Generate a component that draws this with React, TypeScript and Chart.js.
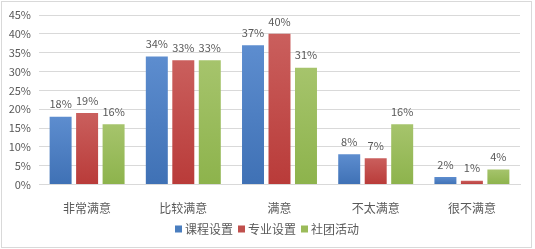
import React, { useEffect, useRef } from "react";
import { Chart, registerables } from "chart.js";

Chart.register(...registerables);

const categories = ["非常满意", "比较满意", "满意", "不太满意", "很不满意"];
const seriesNames = ["课程设置", "专业设置", "社团活动"];
const courseValues = [18, 34, 37, 8, 2];
const majorValues = [19, 33, 40, 7, 1];
const clubValues = [16, 33, 31, 16, 4];
const yTicks = [0, 5, 10, 15, 20, 25, 30, 35, 40, 45];

const colorTop = ["#5d8dcf", "#ca5f5d", "#a6c46c"];
const colorBottom = ["#3f71b5", "#b93b39", "#8db34c"];
const legendColors = ["#4a7ebf", "#c0504d", "#9bbb59"];

const FONT = "'Noto Sans CJK SC', 'Noto Sans', sans-serif";
const TEXT = "#595959";

export default function App() {
  const ref = useRef<HTMLCanvasElement | null>(null);

  useEffect(() => {
    document.body.style.margin = "0";
    const canvas = ref.current!;
    const makeBg = (i: number) => (ctx: any) => {
      const chart = ctx.chart;
      const area = chart.chartArea;
      if (!area || ctx.type !== "data") return legendColors[i];
      const y = chart.scales.y;
      const v = ctx.raw as number;
      const top = y.getPixelForValue(v);
      const bottom = y.getPixelForValue(0);
      const g = chart.ctx.createLinearGradient(0, top, 0, bottom + 0.01);
      g.addColorStop(0, colorTop[i]);
      g.addColorStop(1, colorBottom[i]);
      return g;
    };

    const frame = {
      id: "frame",
      beforeDraw(chart: any) {
        const c = chart.ctx;
        c.save();
        c.fillStyle = "#ffffff";
        c.fillRect(0, 0, chart.width, chart.height);
        c.strokeStyle = "#d9d9d9";
        c.lineWidth = 1;
        c.strokeRect(1.5, 1.5, 530, 246);
        c.restore();
      },
    };

    const labels = {
      id: "valueLabels",
      afterDatasetsDraw(chart: any) {
        const c = chart.ctx;
        c.save();
        c.font = `11px ${FONT}`;
        c.fillStyle = TEXT;
        c.textAlign = "center";
        c.textBaseline = "bottom";
        chart.data.datasets.forEach((ds: any, di: number) => {
          const meta = chart.getDatasetMeta(di);
          meta.data.forEach((bar: any, idx: number) => {
            c.fillText(ds.data[idx] + "%", bar.x, bar.y - 7);
          });
        });
        c.restore();
      },
    };

    const legend = {
      id: "customLegend",
      afterDraw(chart: any) {
        const c = chart.ctx;
        c.save();
        c.font = `12px ${FONT}`;
        c.textBaseline = "middle";
        const box = 7;
        const gapBox = 3;
        const gapItem = 5;
        const widths = seriesNames.map((n) => c.measureText(n).width);
        const total =
          widths.reduce((a, b) => a + b, 0) + seriesNames.length * (box + gapBox) + gapItem * (seriesNames.length - 1);
        let x = 267 - total / 2;
        const yc = 229;
        seriesNames.forEach((n, i) => {
          c.fillStyle = legendColors[i];
          c.fillRect(x, yc - box / 2, box, box);
          x += box + gapBox;
          c.fillStyle = TEXT;
          c.fillText(n, x, yc + 0.5);
          x += widths[i] + gapItem;
        });
        c.restore();
      },
    };

    const chart = new Chart(canvas, {
      type: "bar",
      data: {
        labels: categories,
        datasets: [courseValues, majorValues, clubValues].map((d, i) => ({
          label: seriesNames[i],
          data: d,
          backgroundColor: makeBg(i),
          borderWidth: 0,
          categoryPercentage: 0.826,
          barPercentage: 0.83,
        })),
      },
      options: {
        responsive: false,
        animation: false,
        devicePixelRatio: 1,
        layout: { padding: { top: 15, right: 15, left: 0, bottom: 34 } },
        plugins: {
          legend: { display: false },
          tooltip: { enabled: false },
        },
        scales: {
          x: {
            grid: { display: false, drawTicks: false },
            border: { display: true, color: "#d9d9d9" },
            ticks: { color: TEXT, font: { size: 12, family: FONT }, padding: 17 },
            afterFit(scale: any) {
              scale.height = 249 - 184.5 - 34;
            },
          },
          y: {
            min: 0,
            max: 45,
            afterBuildTicks(scale: any) {
              scale.ticks = yTicks.map((v) => ({ value: v }));
            },
            grid: { color: "#d9d9d9", drawTicks: false },
            border: { display: false },
            ticks: {
              color: TEXT,
              font: { size: 11, family: FONT },
              padding: 8,
              callback: (v: any) => v + "%",
            },
            afterFit(scale: any) {
              scale.width = 39;
            },
          },
        },
      },
      plugins: [frame, labels, legend],
    });
    return () => chart.destroy();
  }, []);

  return <canvas ref={ref} width={535} height={249} style={{ display: "block" }} />;
}
